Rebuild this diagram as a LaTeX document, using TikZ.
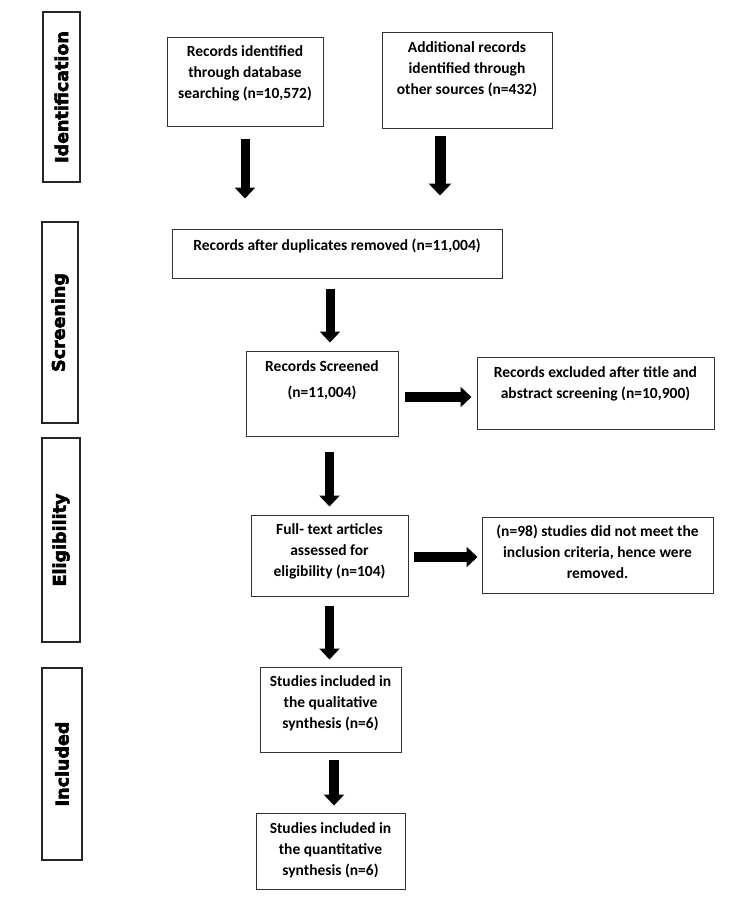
\documentclass[tikz,border=0pt]{standalone}
\usepackage{fontspec}
\setmainfont{Carlito}
\newfontfamily\sidefont{DejaVu Sans Bold}[FakeBold=3.2]
\usetikzlibrary{arrows.meta,calc}
\tikzset{
  box/.style={draw=black!80, line width=1pt, rectangle, inner sep=0pt},
  txt/.style={align=center, inner sep=0pt, anchor=north, font=\fontsize{15.5}{21}\selectfont\bfseries},
  side/.style={draw=black!85, line width=1.1pt, rectangle, inner sep=0pt},
  sidetxt/.style={rotate=90, inner sep=0pt, font=\sidefont\fontsize{17.5}{20}\selectfont},
  blk/.style={line width=9pt, -{Triangle[width=20pt,length=11pt]}},
  blkb/.style={line width=11pt, -{Triangle[width=22pt,length=12pt]}}
}
\begin{document}
\begin{tikzpicture}[x=1pt,y=-1pt]
\useasboundingbox (0,0) rectangle (750,914);
% side boxes
\node[side, minimum width=37pt, minimum height=170pt] (S1) at (61.5,97) {};
\node[sidetxt] (S1t) at (S1.center) {Identification};
\node[side, minimum width=36pt, minimum height=201pt] (S2) at (60,322.5) {};
\node[sidetxt] (S2t) at (S2.center) {Screening};
\node[side, minimum width=38pt, minimum height=204pt] (S3) at (61,540) {};
\node[sidetxt] (S3t) at (S3.center) {Eligibility};
\node[side, minimum width=40pt, minimum height=192pt] (S4) at (62,764) {};
\node[sidetxt] (S4t) at (S4.center) {Included};
% main boxes
\node[box, minimum width=156pt, minimum height=89pt] (A) at (245,81.5) {};
\node[txt] (At) at ([yshift=-5.3pt]A.north) {\strut Records identified\\through database\\searching (n=10,572)};
\node[box, minimum width=170pt, minimum height=96pt] (B) at (467,80) {};
\node[txt] (Bt) at ([yshift=-6.3pt]B.north) {\strut Additional records\\identified through\\other sources (n=432)};
\node[box, minimum width=330pt, minimum height=49pt] (C) at (337,253.5) {};
\node[txt] (Ct) at ([yshift=-7.3pt]C.north) {\strut Records after duplicates removed (n=11,004)};
\node[box, minimum width=152pt, minimum height=85pt] (D) at (322,393.5) {};
\node[txt] (Dt) at ([yshift=-6.3pt]D.north) {\strut Records Screened\\[5pt](n=11,004)};
\node[box, minimum width=237pt, minimum height=72pt] (E) at (595.5,393) {};
\node[txt] (Et) at ([yshift=-6.3pt]E.north) {\strut Records excluded after title and\\abstract screening (n=10,900)};
\node[box, minimum width=157pt, minimum height=81pt] (F) at (329.5,555.5) {};
\node[txt] (Ft) at ([yshift=-5.3pt]F.north) {\strut Full- text articles\\assessed for\\eligibility (n=104)};
\node[box, minimum width=231pt, minimum height=76pt] (G) at (597.5,555) {};
\node[txt] (Gt) at ([yshift=-5.3pt]G.north) {\strut (n=98) studies did not meet the\\inclusion criteria, hence were\\removed.};
\node[box, minimum width=141pt, minimum height=85pt] (H) at (330.5,709.5) {};
\node[txt] (Ht) at ([yshift=-5.3pt]H.north) {\strut Studies included in\\the qualitative\\synthesis (n=6)};
\node[box, minimum width=149pt, minimum height=76pt] (I) at (330.5,851) {};
\node[txt] (It) at ([yshift=-6.3pt]I.north) {\strut Studies included in\\the quantitative\\synthesis (n=6)};
% arrows
\draw[blk, shorten <=12pt, shorten >=30pt] (A.south) -- (A.south |- C.north);
\draw[blkb, shorten <=7pt, shorten >=33pt] ([xshift=-27pt]B.south) -- ([xshift=-27pt]B.south |- C.north);
\draw[blk, shorten <=10pt, shorten >=8pt] ([xshift=-7pt]C.south) -- ([xshift=-7pt]C.south |- D.north);
\draw[blk, shorten <=15pt, shorten >=8pt] (F.north |- D.south) -- (F.north);
\draw[blk, shorten <=9pt, shorten >=7pt] (F.south) -- (F.south |- H.north);
\draw[blk, line width=10pt, shorten <=7pt, shorten >=7pt] ([xshift=3.5pt]H.south) -- ([xshift=3.5pt]H.south |- I.north);
\draw[blk, line width=10pt, shorten <=6pt, shorten >=5pt] ([yshift=-3.5pt]D.east) -- ([yshift=-3.5pt]D.east -| E.west);
\draw[blk, line width=10pt, shorten <=5pt, shorten >=4pt] ([yshift=-1.5pt]F.east) -- ([yshift=-1.5pt]F.east -| G.west);
\end{tikzpicture}
\end{document}
